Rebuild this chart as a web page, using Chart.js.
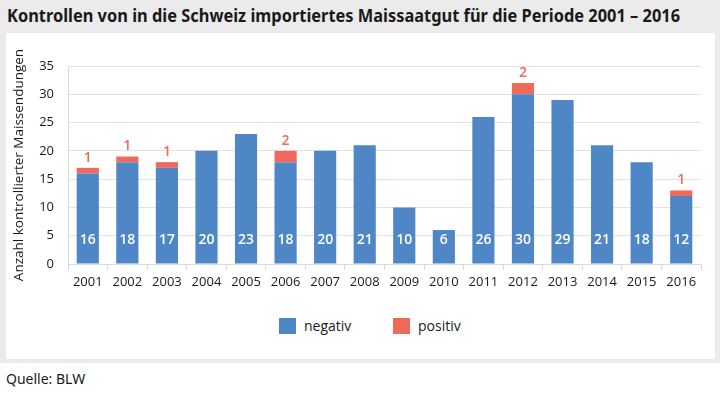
<!DOCTYPE html>
<html>
<head>
<meta charset="utf-8">
<script src="https://cdn.jsdelivr.net/npm/chart.js@4/dist/chart.umd.min.js"></script>
<style>
  html, body { margin: 0; padding: 0; }
  body { width: 720px; height: 393px; position: relative; background: #fff; overflow: hidden;
         font-family: "Open Sans", "Noto Sans", sans-serif; color: #1a1a1a; }
  #frame { position: absolute; left: 0; top: 0; width: 720px; height: 363px; background: #ebebeb; }
  #title { position: absolute; left: 7px; top: 4px; font-size: 17px; font-weight: 700; white-space: nowrap;
           transform-origin: 0 0; font-family: "Noto Sans", sans-serif; }
  #panel { position: absolute; left: 6px; top: 33px; width: 709px; height: 326px; background: #fff; }
  #wrap { position: absolute; left: 0; top: 0; width: 709px; height: 265px; }
  #legend { position: absolute; left: 0; top: 285px; width: 709px; height: 17px; font-size: 14px; }
  .item { position: absolute; top: 0; height: 17px; line-height: 17px; }
  .box { position: absolute; left: 0; top: 0; width: 17px; height: 16px; }
  .item span { position: absolute; left: 25px; top: -1px; white-space: nowrap; }
  #source { position: absolute; left: 6px; top: 369px; font-size: 14px; font-family: "Noto Sans", sans-serif; }
</style>
</head>
<body>
<div id="frame"></div>
<div id="title">Kontrollen von in die Schweiz importiertes Maissaatgut für die Periode 2001 – 2016</div>
<div id="panel">
  <div id="wrap"><canvas id="chart"></canvas></div>
  <div id="legend"></div>
</div>
<div id="source">Quelle: BLW</div>
<script>
var years = ['2001', '2002', '2003', '2004', '2005', '2006', '2007', '2008',
	'2009', '2010', '2011', '2012', '2013', '2014', '2015', '2016'];
var negativ = [16, 18, 17, 20, 23, 18, 20, 21, 10, 6, 26, 30, 29, 21, 18, 12];
var positiv = [1, 1, 1, 0, 0, 2, 0, 0, 0, 0, 0, 2, 0, 0, 0, 1];
var yTicks = [0, 5, 10, 15, 20, 25, 30, 35];

var BLUE = '#4f86c6';
var RED = '#ef6a5a';

// fit the title to the width in the picture
var title = document.getElementById('title');
title.style.transform = 'scaleX(' + (673 / title.scrollWidth) + ')';

// labels inside / above the bars
var barLabels = {
	id: 'barLabels',
	afterDatasetsDraw: function(chart) {
		var ctx = chart.ctx;
		ctx.save();
		ctx.textAlign = 'center';
		ctx.textBaseline = 'middle';
		ctx.font = '600 14px "Open Sans", sans-serif';

		ctx.fillStyle = '#ffffff';
		chart.getDatasetMeta(0).data.forEach(function(bar, i) {
			ctx.fillText(String(negativ[i]), bar.x, bar.base - 23);
		});

		ctx.fillStyle = RED;
		chart.getDatasetMeta(1).data.forEach(function(bar, i) {
			if (positiv[i] > 0) {
				ctx.fillText(String(positiv[i]), bar.x, bar.y - 10);
			}
		});
		ctx.restore();
	}
};

var chart = new Chart(document.getElementById('chart'), {
	type: 'bar',
	data: {
		labels: years,
		datasets: [{
			label: 'negativ',
			data: negativ,
			backgroundColor: BLUE,
			barPercentage: 0.56,
			categoryPercentage: 1
		}, {
			label: 'positiv',
			data: positiv,
			backgroundColor: RED,
			barPercentage: 0.56,
			categoryPercentage: 1
		}]
	},
	options: {
		responsive: true,
		maintainAspectRatio: false,
		animation: false,
		layout: { padding: { top: 33, right: 14, left: 0, bottom: 0 } },
		plugins: {
			legend: { display: false },
			tooltip: { enabled: false }
		},
		scales: {
			x: {
				stacked: true,
				grid: {
					display: true,
					drawOnChartArea: false,
					drawTicks: true,
					tickLength: 6,
					color: '#d9d9d9'
				},
				border: { display: true, color: '#d9d9d9' },
				ticks: {
					color: '#1a1a1a',
					padding: 4,
					font: { family: '"Open Sans", sans-serif', size: 13 },
					maxRotation: 0
				},
				afterFit: function(scale) { scale.height = 34; }
			},
			y: {
				stacked: true,
				min: 0,
				max: 35,
				afterBuildTicks: function(scale) {
					scale.ticks = yTicks.map(function(v) { return { value: v }; });
				},
				grid: {
					color: '#e3e3e3',
					drawTicks: false
				},
				border: { display: true, color: '#d9d9d9' },
				ticks: {
					color: '#1a1a1a',
					padding: 14,
					font: { family: '"Open Sans", sans-serif', size: 13 }
				},
				title: {
					display: true,
					text: 'Anzahl kontrollierter Maissendungen',
					color: '#1a1a1a',
					font: { family: '"Open Sans", sans-serif', size: 13.5 },
					padding: { top: 5, bottom: 0 }
				},
				afterFit: function(scale) { scale.width = 62; }
			}
		}
	},
	plugins: [barLabels]
});

// legend built from the datasets
var legend = document.getElementById('legend');
var legendX = [273, 387];
chart.data.datasets.forEach(function(ds, i) {
	var item = document.createElement('div');
	item.className = 'item';
	item.style.left = legendX[i] + 'px';
	item.innerHTML = '<div class="box" style="background:' + ds.backgroundColor + '"></div><span>' + ds.label + '</span>';
	legend.appendChild(item);
});
</script>
</body>
</html>
